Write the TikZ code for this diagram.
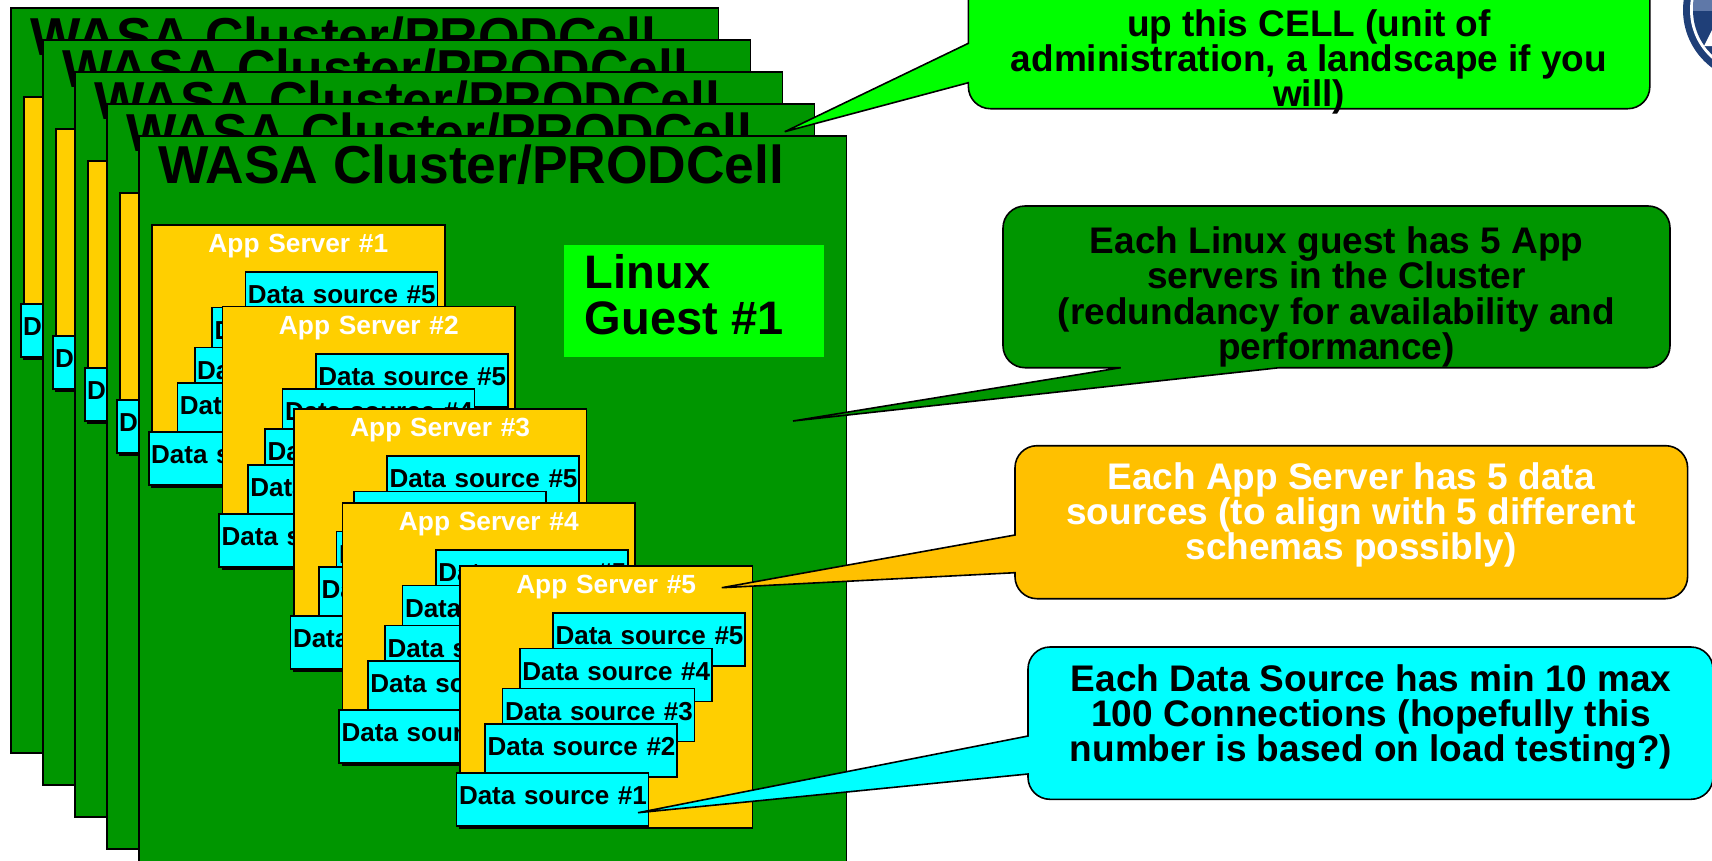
\documentclass[tikz,border=0pt]{standalone}
\usepackage{fontspec}
\setmainfont{Liberation Sans}
\definecolor{cellgreen}{HTML}{009600}
\definecolor{guestgreen}{HTML}{00FF00}
\definecolor{appyellow}{HTML}{FFCF00}
\definecolor{noteorange}{HTML}{FFC000}
\definecolor{dscyan}{HTML}{00FFFF}
\definecolor{logoblue}{HTML}{1F3F78}
\definecolor{logolight}{HTML}{5F78A8}
\newcommand{\sized}[2]{\fontsize{#1bp}{#2bp}\selectfont\bfseries}

\begin{document}
\begin{tikzpicture}
	[x=1bp,y=-1bp,line width=1.6bp,
	cellbox/.style={draw,fill=cellgreen,anchor=north west,inner sep=0pt,minimum width=707.5bp,minimum height=745bp},
	celltitle/.style={anchor=base west,inner sep=0pt,font=\sized{53.4}{54}},
	appbox/.style={draw,fill=appyellow,anchor=north west,inner sep=0pt,text width=292.7bp,align=center,text=white,
		text height=28bp,text depth=234.4bp,font=\sized{26.3}{27}},
	dsbox/.style={draw,fill=dscyan,anchor=north west,inner ysep=0pt,inner xsep=2.5bp,text width=187bp,
		text height=31.5bp,text depth=21.5bp,font=\sized{26}{27}},
	note/.style={inner sep=0pt,align=center},
	balloon/.style={draw,rounded corners=22bp}]
	\clip (0,0) rectangle (1712,860);

	% top right badge, cut by the page edge
	\fill[logoblue] (1755,10) circle (72);
	\fill[white] (1755,10) circle (65);
	\fill[logoblue] (1755,10) circle (62);
	\begin{scope}
		\clip (1755,10) circle (62);
		\fill[logolight] (1690,-5) rectangle (1712,11);
	\end{scope}
	\fill[white] (1712,30) -- (1712,46) -- (1704,46) -- cycle;

	% five cells, each with five app servers
	\foreach \c in {0,...,4} {
		\begin{scope}[shift={({32*\c},{32*\c})}]
			\node[cellbox] (cell\c) at (10,7) {};
			\node[celltitle] (title\c) at (29.5,55) {WASA Cluster/PRODCell};
			\foreach \a/\ax/\ay in {1/23.2/96,2/93.7/177.5,3/165/280,4/213.7/374,5/331/437} {
				\node[appbox] (app\c\a) at (\ax,\ay) {App Server \#\a};
				\foreach \d/\dx/\dy in {5/93.3/47.4,4/60/82.7,3/42.7/122.7,2/25.3/158.4,1/-3.3/207.4}
				\node[dsbox] (ds\c\a\d) at (\ax+\dx,\ay+\dy) {\mbox{Data source \#\d}};
			}
		\end{scope}
	}
	\node[fill=guestgreen,anchor=north west,inner sep=0pt,minimum width=260.5bp,minimum height=112bp] (guest) at (562.8,244) {};
	\node[anchor=west,inner sep=0pt,align=left,font=\sized{47}{46}] (guesttext) at (584,295) {Linux\\Guest \#1};

	% notes on the right
	\coordinate (celltip) at (784.8,131.7);
	\coordinate (guesttip) at (793,421);
	\coordinate (apptip) at (721.8,587.7);
	\coordinate (dstip) at (638,812.7);

	\draw[balloon,fill=guestgreen] (968.4,43.3) -- (968.4,-40) -- (1649.8,-40) -- (1649.8,108.7) -- (968.4,108.7)
		[sharp corners] -- (968.4,82.7) -- (celltip) -- cycle;
	\draw[balloon,fill=cellgreen] (1120.7,367.7) -- (1003,367.7) -- (1003,206) -- (1670,206) -- (1670,367.7)
		[sharp corners] -- (1279.4,367.7) -- (guesttip) -- cycle;
	\draw[balloon,fill=noteorange] (1015,535) -- (1015,445.7) -- (1687.6,445.7) -- (1687.6,598.7) -- (1015,598.7)
		[sharp corners] -- (1015,572.7) -- (apptip) -- cycle;
	\draw[balloon,fill=dscyan] (1028,736) -- (1028,647) -- (1713,647) -- (1713,799.3) -- (1028,799.3)
		[sharp corners] -- (1028,774) -- (dstip) -- cycle;

	\node[note,font=\sized{37}{35}] (cellnote) at (1309,62) {up this CELL (unit of\\administration, a landscape if you\\will)};
	\node[note,font=\sized{37}{35.3}] (guestnote) at (1336.5,297) {Each Linux guest has 5 App\\servers in the Cluster\\(redundancy for availability and\\performance)};
	\node[note,font=\sized{37}{35.3},text=white] (appnote) at (1351,515) {Each App Server has 5 data\\sources (to align with 5 different\\schemas possibly)};
	\node[note,font=\sized{37}{35.3}] (dsnote) at (1371,717) {Each Data Source has min 10 max\\100 Connections (hopefully this\\number is based on load testing?)};
\end{tikzpicture}
\end{document}
